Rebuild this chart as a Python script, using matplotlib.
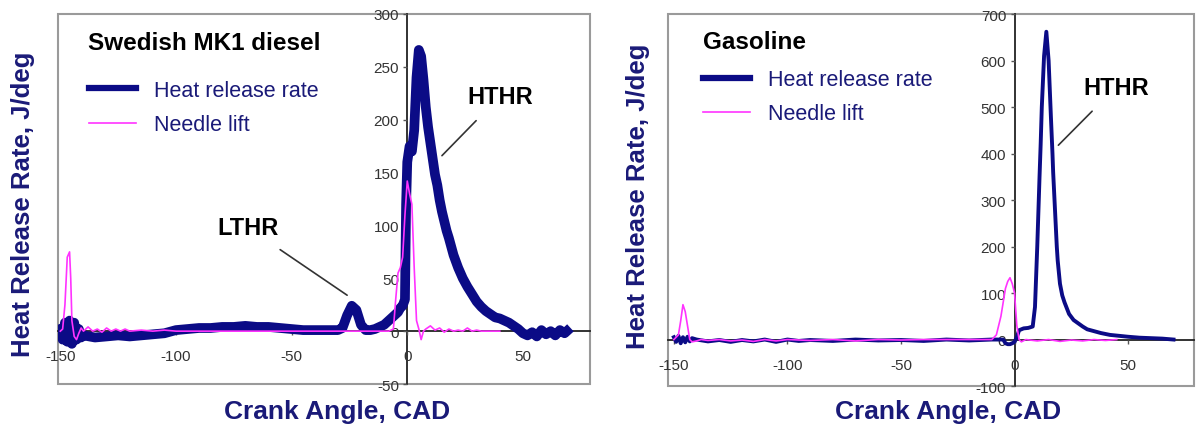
import matplotlib
matplotlib.use('Agg')
import matplotlib.pyplot as plt
from matplotlib.patches import Rectangle

# 柴油 (Swedish MK1) - 放热率
diesel_cad = [-150, -149, -148, -147, -146, -145, -144, -143, -142, -141, -140,
              -135, -130, -125, -120, -115, -110, -105, -100, -95, -90, -85, -80,
              -75, -70, -65, -60, -55, -50, -45, -40, -35, -30, -28, -26, -24,
              -22, -20, -18, -16, -14, -12, -10, -8, -6, -4, -3, -2, -1, -0.5,
              0, 1, 2, 3, 4, 5, 6, 7, 8, 9, 10, 11, 12, 13, 14, 15, 16, 17, 18,
              19, 20, 22, 24, 26, 28, 30, 32, 34, 36, 38, 40, 42, 44, 46, 48, 50,
              52, 54, 56, 58, 60, 62, 64, 66, 68, 69]
diesel_hrr = [2, -8, 8, -10, 10, -12, 8, -8, 2, -6, -4,
              -6, -5, -4, -5, -4, -3, -2, 1, 2, 3, 3, 4,
              4, 5, 4, 4, 3, 2, 1, 1, 1, 1, 3, 15, 24,
              20, 6, 1, 1, 2, 4, 6, 10, 14, 18, 22, 24, 30, 120,
              160, 175, 170, 190, 240, 266, 260, 238, 212, 193, 178, 163, 148, 138, 124, 113, 104, 95, 88,
              80, 72, 60, 50, 42, 35, 28, 23, 19, 16, 13, 12, 10, 8, 5, 2, -2,
              -4, -1, -5, 1, -3, 0, -4, 1, -2, 0]

# 柴油 - 针阀升程
diesel_nl_cad = [-150, -149, -148, -147, -146, -145.5, -145, -144, -143, -142, -141,
                 -140, -138, -136, -134, -132, -130, -128, -126, -124, -122, -120,
                 -115, -110, -105, -100, -50, -8, -6, -5, -4, -3, -2, -1, 0, 1, 2,
                 3, 4, 5, 6, 7, 8, 10, 12, 14, 16, 18, 20, 22, 24, 26, 28, 30, 32,
                 36, 40]
diesel_nl = [0, 2, 25, 70, 75, 50, 10, -5, -8, -2, 3,
             0, 4, 0, 2, -1, 3, 0, 2, 0, 2, 0,
             1, 0, 1, 0, 0, 0, 2, 30, 55, 60, 70, 110, 142, 130, 120,
             60, 10, 2, -8, 0, 2, 5, 1, 3, -1, 2, 0, 1, 0, 3, 0, 1, 0,
             0, 0]

# 汽油 - 放热率
gas_cad = [-150, -149, -148, -147, -146, -145, -144, -143, -142, -140, -135, -130,
           -125, -120, -115, -110, -105, -100, -95, -90, -80, -70, -60, -50, -40,
           -30, -20, -10, -5, -4, -3, -2, -1, 0, 1, 2, 3, 4, 6, 8, 9, 10, 11,
           11.5, 12, 13, 14, 15, 16, 16.7, 17, 18, 18.6, 19, 20, 21, 22, 24, 26,
           28, 30, 32, 35, 38, 42, 46, 50, 55, 60, 65, 70]
gas_hrr = [5, -5, 8, -8, 5, -6, 6, -4, 3, 0, -4, -1,
           -5, -1, -4, 0, -5, 0, -3, -1, -3, 0, -2, -1, -3,
           0, -2, 0, 0, -8, -10, -10, -8, -5, 5, 20, 22, 24, 25, 28, 70, 200, 350,
           420, 500, 610, 662, 600, 480, 400, 360, 260, 200, 170, 120, 95, 80, 55, 42,
           35, 28, 22, 18, 14, 10, 8, 6, 4, 3, 2, 0]

# 汽油 - 针阀升程
gas_nl_cad = [-150, -148, -147, -146, -145, -144, -143, -142, -140, -138, -135, -130,
              -125, -120, -115, -110, -105, -100, -90, -80, -70, -60, -50, -40, -20,
              -10, -8, -6, -5, -4, -3, -2, -1, 0, 1, 2, 3, 5, 10, 15, 20, 25, 30,
              35, 40, 45]
gas_nl = [0, 10, 40, 75, 60, 30, 0, -5, -3, 0, -2, 0,
          -3, -1, -4, 0, -3, 0, -2, 0, -3, 0, -1, 0, 0,
          0, 10, 50, 80, 110, 125, 133, 120, 100, 30, 0, -5, 0, -3, 0, -4, -1, -3,
          0, -2, 0]

NAVY = '#0b0b86'
LABEL = '#1a1a78'
PINK = '#ff33ff'
TICK = '#333333'

plt.rcParams['font.family'] = ['Liberation Sans', 'DejaVu Sans']
plt.rcParams['axes.unicode_minus'] = False

fig = plt.figure(figsize=(11.96, 4.31), dpi=100)
ax1 = fig.add_axes([0.0485, 0.1067, 0.4448, 0.8585])
ax2 = fig.add_axes([0.5585, 0.1020, 0.4398, 0.8630])


def style_axes(ax, xlim, ylim, yticks):
    ax.set_xlim(*xlim)
    ax.set_ylim(*ylim)
    for s in ['top', 'right']:
        ax.spines[s].set_visible(False)
    ax.spines['left'].set_position(('data', 0))
    ax.spines['bottom'].set_position(('data', 0))
    for s in ['left', 'bottom']:
        ax.spines[s].set_color('#222222')
        ax.spines[s].set_linewidth(1.3)
        ax.spines[s].set_zorder(1)
    ax.set_xticks([-150, -100, -50, 0, 50])
    ax.set_yticks(yticks)
    ax.tick_params(axis='x', direction='out', length=3, width=1, pad=10,
                   labelsize=11, labelcolor=TICK, color='#555555')
    ax.tick_params(axis='y', direction='out', length=3, width=1, pad=3,
                   labelsize=11, labelcolor=TICK, color='#555555')
    # 外框
    ax.add_patch(Rectangle((0, 0), 1, 1, transform=ax.transAxes, fill=False,
                           edgecolor='#9a9a9a', linewidth=1.5, clip_on=False))


style_axes(ax1, (-151, 79), (-50, 300), list(range(-50, 301, 50)))
style_axes(ax2, (-152.6, 79), (-100, 700), list(range(-100, 701, 100)))

ax1.plot(diesel_cad, diesel_hrr, color=NAVY, lw=7, label='Heat release rate', zorder=3)
ax1.plot(diesel_nl_cad, diesel_nl, color=PINK, lw=1.2, label='Needle lift', zorder=4)
ax2.plot(gas_cad, gas_hrr, color=NAVY, lw=2.8, label='Heat release rate', zorder=3)
ax2.plot(gas_nl_cad, gas_nl, color=PINK, lw=1.2, label='Needle lift', zorder=4)

leg_kw = dict(loc='upper left', frameon=False, borderpad=0, borderaxespad=0,
              handlelength=2.2, handletextpad=0.84, labelspacing=0.62,
              prop={'size': 15.5}, labelcolor=LABEL)
leg1 = ax1.legend(bbox_to_anchor=(0.058, 0.822), **leg_kw)
leg2 = ax2.legend(bbox_to_anchor=(0.0665, 0.852), **leg_kw)
leg1.legend_handles[0].set_linewidth(4.5)
leg2.legend_handles[0].set_linewidth(4.5)

title_font = ['Liberation Sans Narrow', 'Liberation Sans', 'DejaVu Sans']
ax1.text(0.056, 0.924, 'Swedish MK1 diesel', transform=ax1.transAxes, fontsize=17.5,
         fontweight='bold', family=title_font, va='center', ha='left')
ax2.text(0.0665, 0.925, 'Gasoline', transform=ax2.transAxes, fontsize=17.5,
         fontweight='bold', family=title_font, va='center', ha='left')

# 标注
ax1.annotate('HTHR', xy=(15, 166), xytext=(40, 222), fontsize=17, fontweight='bold',
             family=title_font, ha='center', va='center',
             arrowprops=dict(arrowstyle='-', color='#333333', lw=1.2, shrinkA=10, shrinkB=0))
ax1.annotate('LTHR', xy=(-26, 34), xytext=(-69, 98), fontsize=17, fontweight='bold',
             family=title_font, ha='center', va='center',
             arrowprops=dict(arrowstyle='-', color='#333333', lw=1.2, shrinkA=10, shrinkB=0))
ax2.annotate('HTHR', xy=(19.3, 418), xytext=(44.7, 543), fontsize=17, fontweight='bold',
             family=title_font, ha='center', va='center',
             arrowprops=dict(arrowstyle='-', color='#333333', lw=1.2, shrinkA=10, shrinkB=0))

fig.text(0.019, 0.527, 'Heat Release Rate, J/deg', rotation=90, fontsize=18.5,
         fontweight='bold', color=LABEL, ha='center', va='center')
fig.text(0.5335, 0.545, 'Heat Release Rate, J/deg', rotation=90, fontsize=18.5,
         fontweight='bold', color=LABEL, ha='center', va='center')
fig.text(0.282, 0.044, 'Crank Angle, CAD', fontsize=19, fontweight='bold',
         color=LABEL, ha='center', va='center')
fig.text(0.7926, 0.044, 'Crank Angle, CAD', fontsize=19, fontweight='bold',
         color=LABEL, ha='center', va='center')

fig.savefig('out.png', dpi=100)
